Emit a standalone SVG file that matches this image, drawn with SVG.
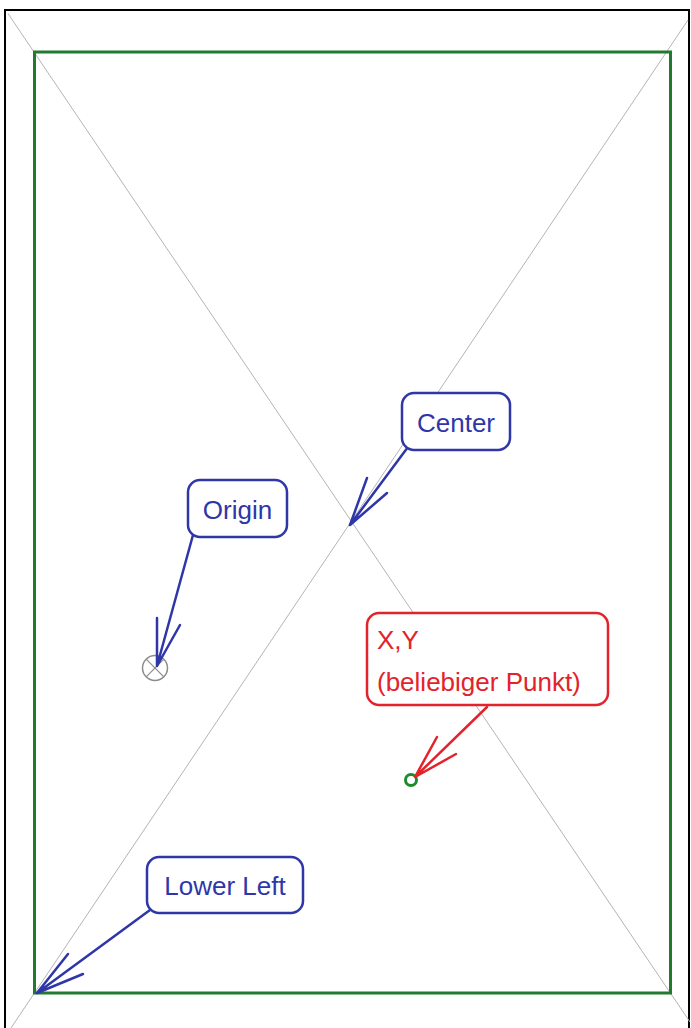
<svg xmlns="http://www.w3.org/2000/svg" width="691" height="1028" viewBox="0 0 691 1028">
<style>
.box{fill:#fff;stroke-width:2.5}
.blue{stroke:#2f37a8}
.red{stroke:#e3232b}
.lbl{font-family:"Liberation Sans",Arial,sans-serif;font-size:26px}
.tb{fill:#2f37a8}
.tr{fill:#e3232b}
.arr{fill:none;stroke-width:2.5;stroke-linecap:round;stroke-linejoin:round}
.diag{stroke:#b4b4b4;stroke-width:1;fill:none}
</style>
<rect x="0" y="0" width="691" height="1028" fill="#fff"/>
<g id="frame">
<rect x="5" y="10" width="684" height="1030" fill="none" stroke="#000" stroke-width="2"/>
</g>
<g id="diagonals">
<line class="diag" x1="8" y1="13.6" x2="690" y2="1022"/>
<line class="diag" x1="688" y1="20" x2="11" y2="1028"/>
</g>
<g id="page">
<rect x="34.5" y="52" width="636" height="941" fill="none" stroke="#217a30" stroke-width="3"/>
</g>
<g id="origin-marker">
<circle cx="155" cy="668" r="12.5" fill="none" stroke="#8c8c8c" stroke-width="1.5"/>
<line x1="146.2" y1="659.2" x2="163.8" y2="676.8" stroke="#8c8c8c" stroke-width="1.2"/>
<line x1="163.8" y1="659.2" x2="146.2" y2="676.8" stroke="#8c8c8c" stroke-width="1.2"/>
</g>
<g id="xy-marker">
<circle cx="411" cy="780" r="5.5" fill="none" stroke="#1e8a2a" stroke-width="3"/>
</g>
<g id="connectors">
<path class="arr blue" d="M408 447 L350 525 M367 478 L350 525 L387 493"/>
<path class="arr blue" d="M193 535 L157 666 M157 618 L157 666 L180 625"/>
<path class="arr red" d="M487 707 L415 777 M437 737 L415 777 L456 754"/>
<path class="arr blue" d="M150 910 L37 993 M68 954 L37 993 L83 974"/>
</g>
<g id="center">
<rect class="box blue" x="402" y="393" width="108" height="57" rx="12"/>
<text class="lbl tb" x="456" y="432" text-anchor="middle">Center</text>
</g>
<g id="origin">
<rect class="box blue" x="188" y="480" width="99" height="57" rx="12"/>
<text class="lbl tb" x="237.5" y="519" text-anchor="middle">Origin</text>
</g>
<g id="xy">
<rect class="box red" x="367" y="613" width="241" height="92" rx="12"/>
<text class="lbl tr" x="377" y="649">X,Y</text>
<text class="lbl tr" x="377" y="691">(beliebiger Punkt)</text>
</g>
<g id="lower-left">
<rect class="box blue" x="147" y="857" width="156" height="56" rx="12"/>
<text class="lbl tb" x="225" y="895" text-anchor="middle">Lower Left</text>
</g>
</svg>
